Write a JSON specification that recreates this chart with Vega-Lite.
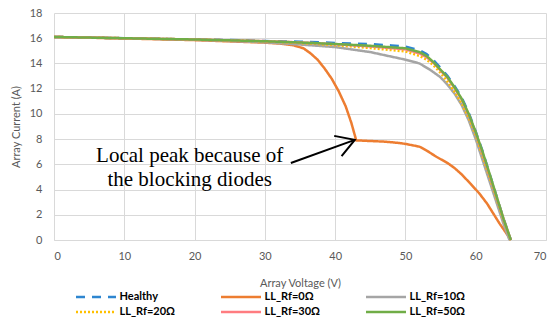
{
"$schema":"https://vega.github.io/schema/vega-lite/v6.json",
"width":492,"height":227,
"autosize":{"type":"none"},
"padding":{"left":54,"top":13,"right":5,"bottom":82},
"background":"white",
"config":{"view":{"stroke":null},"font":"Lato",
 "axisX":{"labelOverlap":false,"grid":true,"gridColor":"#d9d9d9","gridWidth":1,"domainColor":"#d9d9d9","ticks":false,"labelPadding":10,"labelColor":"#595959","labelFontSize":11,"labelFont":"Lato","titleFont":"Lato","titleFontSize":11,"titleFontWeight":"normal","titleColor":"#595959","titlePadding":16},
 "axisY":{"labelOverlap":false,"grid":true,"gridColor":"#d9d9d9","gridWidth":1,"domain":false,"ticks":false,"labelPadding":12,"labelColor":"#595959","labelFontSize":11,"labelFont":"Lato","titleFont":"Lato","titleFontSize":11,"titleFontWeight":"normal","titleColor":"#595959","titlePadding":8}},
"datasets":{
"curves":[
{"s":"Healthy","v":0,"i":16.1},{"s":"Healthy","v":5,"i":16.05},{"s":"Healthy","v":10,"i":16.0},{"s":"Healthy","v":15,"i":15.95},{"s":"Healthy","v":20,"i":15.9},{"s":"Healthy","v":25,"i":15.85},{"s":"Healthy","v":30,"i":15.78},{"s":"Healthy","v":35,"i":15.72},{"s":"Healthy","v":40,"i":15.63},{"s":"Healthy","v":45,"i":15.53},{"s":"Healthy","v":48,"i":15.43},{"s":"Healthy","v":50,"i":15.33},{"s":"Healthy","v":52,"i":15.05},{"s":"Healthy","v":53,"i":14.75},{"s":"Healthy","v":54,"i":14.25},{"s":"Healthy","v":55,"i":13.65},{"s":"Healthy","v":56,"i":13.0},{"s":"Healthy","v":57,"i":12.2},{"s":"Healthy","v":58,"i":11.3},{"s":"Healthy","v":59,"i":10.1},{"s":"Healthy","v":60,"i":8.6},{"s":"Healthy","v":61,"i":7.0},{"s":"Healthy","v":62,"i":5.2},{"s":"Healthy","v":63,"i":3.4},{"s":"Healthy","v":64,"i":1.6},{"s":"Healthy","v":65,"i":0},
{"s":"LL_Rf=0Ω","v":0,"i":16.1},{"s":"LL_Rf=0Ω","v":10,"i":15.98},{"s":"LL_Rf=0Ω","v":20,"i":15.85},{"s":"LL_Rf=0Ω","v":25,"i":15.75},{"s":"LL_Rf=0Ω","v":30,"i":15.65},{"s":"LL_Rf=0Ω","v":32,"i":15.58},{"s":"LL_Rf=0Ω","v":34,"i":15.45},{"s":"LL_Rf=0Ω","v":35.5,"i":15.2},{"s":"LL_Rf=0Ω","v":36.5,"i":14.8},{"s":"LL_Rf=0Ω","v":37.5,"i":14.3},{"s":"LL_Rf=0Ω","v":38.5,"i":13.6},{"s":"LL_Rf=0Ω","v":39.5,"i":12.8},{"s":"LL_Rf=0Ω","v":40.5,"i":11.8},{"s":"LL_Rf=0Ω","v":41.5,"i":10.6},{"s":"LL_Rf=0Ω","v":42.3,"i":9.3},{"s":"LL_Rf=0Ω","v":43,"i":7.9},{"s":"LL_Rf=0Ω","v":45,"i":7.85},{"s":"LL_Rf=0Ω","v":47,"i":7.8},{"s":"LL_Rf=0Ω","v":49,"i":7.7},{"s":"LL_Rf=0Ω","v":50,"i":7.62},{"s":"LL_Rf=0Ω","v":52,"i":7.4},{"s":"LL_Rf=0Ω","v":53,"i":7.1},{"s":"LL_Rf=0Ω","v":54.4,"i":6.6},{"s":"LL_Rf=0Ω","v":56,"i":6.1},{"s":"LL_Rf=0Ω","v":57,"i":5.7},{"s":"LL_Rf=0Ω","v":58,"i":5.2},{"s":"LL_Rf=0Ω","v":59.2,"i":4.5},{"s":"LL_Rf=0Ω","v":60.5,"i":3.7},{"s":"LL_Rf=0Ω","v":61.6,"i":2.9},{"s":"LL_Rf=0Ω","v":62.5,"i":2.1},{"s":"LL_Rf=0Ω","v":63.4,"i":1.3},{"s":"LL_Rf=0Ω","v":64.4,"i":0.5},{"s":"LL_Rf=0Ω","v":65,"i":0},
{"s":"LL_Rf=10Ω","v":0,"i":16.1},{"s":"LL_Rf=10Ω","v":10,"i":16.0},{"s":"LL_Rf=10Ω","v":20,"i":15.88},{"s":"LL_Rf=10Ω","v":30,"i":15.68},{"s":"LL_Rf=10Ω","v":35,"i":15.5},{"s":"LL_Rf=10Ω","v":40,"i":15.3},{"s":"LL_Rf=10Ω","v":45,"i":14.9},{"s":"LL_Rf=10Ω","v":50,"i":14.3},{"s":"LL_Rf=10Ω","v":52,"i":14.0},{"s":"LL_Rf=10Ω","v":53.5,"i":13.5},{"s":"LL_Rf=10Ω","v":55,"i":12.9},{"s":"LL_Rf=10Ω","v":56,"i":12.3},{"s":"LL_Rf=10Ω","v":57,"i":11.6},{"s":"LL_Rf=10Ω","v":58,"i":10.7},{"s":"LL_Rf=10Ω","v":59,"i":9.5},{"s":"LL_Rf=10Ω","v":60,"i":8.0},{"s":"LL_Rf=10Ω","v":61,"i":6.3},{"s":"LL_Rf=10Ω","v":62,"i":4.6},{"s":"LL_Rf=10Ω","v":63,"i":2.9},{"s":"LL_Rf=10Ω","v":64,"i":1.2},{"s":"LL_Rf=10Ω","v":64.8,"i":0},
{"s":"LL_Rf=20Ω","v":0,"i":16.1},{"s":"LL_Rf=20Ω","v":10,"i":16.0},{"s":"LL_Rf=20Ω","v":20,"i":15.9},{"s":"LL_Rf=20Ω","v":30,"i":15.75},{"s":"LL_Rf=20Ω","v":35,"i":15.62},{"s":"LL_Rf=20Ω","v":40,"i":15.45},{"s":"LL_Rf=20Ω","v":45,"i":15.22},{"s":"LL_Rf=20Ω","v":50,"i":14.95},{"s":"LL_Rf=20Ω","v":52,"i":14.6},{"s":"LL_Rf=20Ω","v":53,"i":14.3},{"s":"LL_Rf=20Ω","v":54,"i":13.85},{"s":"LL_Rf=20Ω","v":55,"i":13.25},{"s":"LL_Rf=20Ω","v":56,"i":12.55},{"s":"LL_Rf=20Ω","v":57,"i":11.75},{"s":"LL_Rf=20Ω","v":58,"i":10.85},{"s":"LL_Rf=20Ω","v":59,"i":9.7},{"s":"LL_Rf=20Ω","v":60,"i":8.3},{"s":"LL_Rf=20Ω","v":61,"i":6.6},{"s":"LL_Rf=20Ω","v":62,"i":4.9},{"s":"LL_Rf=20Ω","v":63,"i":3.2},{"s":"LL_Rf=20Ω","v":64,"i":1.5},{"s":"LL_Rf=20Ω","v":65,"i":0},
{"s":"LL_Rf=30Ω","v":0,"i":16.1},{"s":"LL_Rf=30Ω","v":10,"i":16.0},{"s":"LL_Rf=30Ω","v":20,"i":15.9},{"s":"LL_Rf=30Ω","v":30,"i":15.77},{"s":"LL_Rf=30Ω","v":35,"i":15.67},{"s":"LL_Rf=30Ω","v":40,"i":15.52},{"s":"LL_Rf=30Ω","v":45,"i":15.35},{"s":"LL_Rf=30Ω","v":50,"i":15.12},{"s":"LL_Rf=30Ω","v":52,"i":14.8},{"s":"LL_Rf=30Ω","v":53,"i":14.5},{"s":"LL_Rf=30Ω","v":54,"i":14.05},{"s":"LL_Rf=30Ω","v":55,"i":13.45},{"s":"LL_Rf=30Ω","v":56,"i":12.85},{"s":"LL_Rf=30Ω","v":57,"i":12.05},{"s":"LL_Rf=30Ω","v":58,"i":11.15},{"s":"LL_Rf=30Ω","v":59,"i":9.95},{"s":"LL_Rf=30Ω","v":60,"i":8.5},{"s":"LL_Rf=30Ω","v":61,"i":6.85},{"s":"LL_Rf=30Ω","v":62,"i":5.1},{"s":"LL_Rf=30Ω","v":63,"i":3.35},{"s":"LL_Rf=30Ω","v":64,"i":1.6},{"s":"LL_Rf=30Ω","v":65,"i":0},
{"s":"LL_Rf=50Ω","v":0,"i":16.1},{"s":"LL_Rf=50Ω","v":10,"i":16.0},{"s":"LL_Rf=50Ω","v":20,"i":15.9},{"s":"LL_Rf=50Ω","v":30,"i":15.76},{"s":"LL_Rf=50Ω","v":35,"i":15.66},{"s":"LL_Rf=50Ω","v":40,"i":15.54},{"s":"LL_Rf=50Ω","v":45,"i":15.4},{"s":"LL_Rf=50Ω","v":50,"i":15.2},{"s":"LL_Rf=50Ω","v":52,"i":14.9},{"s":"LL_Rf=50Ω","v":53,"i":14.6},{"s":"LL_Rf=50Ω","v":54,"i":14.1},{"s":"LL_Rf=50Ω","v":55,"i":13.5},{"s":"LL_Rf=50Ω","v":56,"i":12.9},{"s":"LL_Rf=50Ω","v":57,"i":12.1},{"s":"LL_Rf=50Ω","v":58,"i":11.2},{"s":"LL_Rf=50Ω","v":59,"i":10.0},{"s":"LL_Rf=50Ω","v":60,"i":8.55},{"s":"LL_Rf=50Ω","v":61,"i":6.95},{"s":"LL_Rf=50Ω","v":62,"i":5.2},{"s":"LL_Rf=50Ω","v":63,"i":3.4},{"s":"LL_Rf=50Ω","v":64,"i":1.6},{"s":"LL_Rf=50Ω","v":65,"i":0}
],
"notes":[{"v":19.3,"i":6.17,"t":"Local peak because of"},{"v":19.3,"i":4.29,"t":"the blocking diodes"}],
"arrow":[{"v":33.7,"i":6.11,"v2":42.8,"i2":7.94}]
},
"layer":[
{"data":{"name":"curves"},
 "mark":{"type":"line","strokeWidth":2.5},
 "encoding":{
  "x":{"field":"v","type":"quantitative","scale":{"domain":[0,70],"nice":false},"axis":{"values":[0,10,20,30,40,50,60,70],"title":"Array Voltage (V)"}},
  "y":{"field":"i","type":"quantitative","scale":{"domain":[0,18],"nice":false},"axis":{"values":[0,2,4,6,8,10,12,14,16,18],"title":"Array Current (A)"}},
  "color":{"field":"s","type":"nominal","sort":null,
   "scale":{"domain":["Healthy","LL_Rf=0Ω","LL_Rf=10Ω","LL_Rf=20Ω","LL_Rf=30Ω","LL_Rf=50Ω"],"range":["#2e86d0","#ed7d31","#a5a5a5","#ffc000","#ff7c80","#70ad47"]},
   "legend":{"orient":"none","legendX":33,"legendY":275,"columns":3,"gridAlign":"all","direction":"horizontal","title":null,"symbolType":"M-2.667,0H2.667","symbolSize":225,"symbolStrokeWidth":2.5,"symbolFillColor":"transparent","labelFontSize":11,"labelFontWeight":"bold","labelColor":"#000000","labelFont":"Lato","columnPadding":39,"rowPadding":1,"labelOffset":14.5}},
  "strokeDash":{"field":"s","type":"nominal","sort":null,
   "scale":{"domain":["Healthy","LL_Rf=0Ω","LL_Rf=10Ω","LL_Rf=20Ω","LL_Rf=30Ω","LL_Rf=50Ω"],"range":[[9,7],[1,0],[1,0],[2,2],[1,0],[1,0]]},
   "legend":null}
 }},
{"data":{"name":"notes"},
 "mark":{"type":"text","font":"Liberation Serif","fontSize":21,"align":"center","baseline":"alphabetic","color":"#000000"},
 "encoding":{"x":{"field":"v","type":"quantitative","axis":{"values":[0,10,20,30,40,50,60,70],"title":"Array Voltage (V)"}},"y":{"field":"i","type":"quantitative","axis":{"values":[0,2,4,6,8,10,12,14,16,18],"title":"Array Current (A)"}},"text":{"field":"t"}}},
{"data":{"name":"arrow"},
 "mark":{"type":"rule","color":"#000000","strokeWidth":2},
 "encoding":{"x":{"field":"v","type":"quantitative","axis":{"values":[0,10,20,30,40,50,60,70],"title":"Array Voltage (V)"}},"y":{"field":"i","type":"quantitative","axis":{"values":[0,2,4,6,8,10,12,14,16,18],"title":"Array Current (A)"}},"x2":{"field":"v2"},"y2":{"field":"i2"}}},
{"data":{"name":"arrow"},
 "mark":{"type":"point","shape":"M-1,-0.6L0,0L-1,0.6","filled":false,"stroke":"#000000","strokeWidth":2,"size":1300,"angle":-20,"opacity":1},
 "encoding":{"x":{"field":"v2","type":"quantitative","axis":{"values":[0,10,20,30,40,50,60,70],"title":"Array Voltage (V)"}},"y":{"field":"i2","type":"quantitative","axis":{"values":[0,2,4,6,8,10,12,14,16,18],"title":"Array Current (A)"}}}}
]
}
